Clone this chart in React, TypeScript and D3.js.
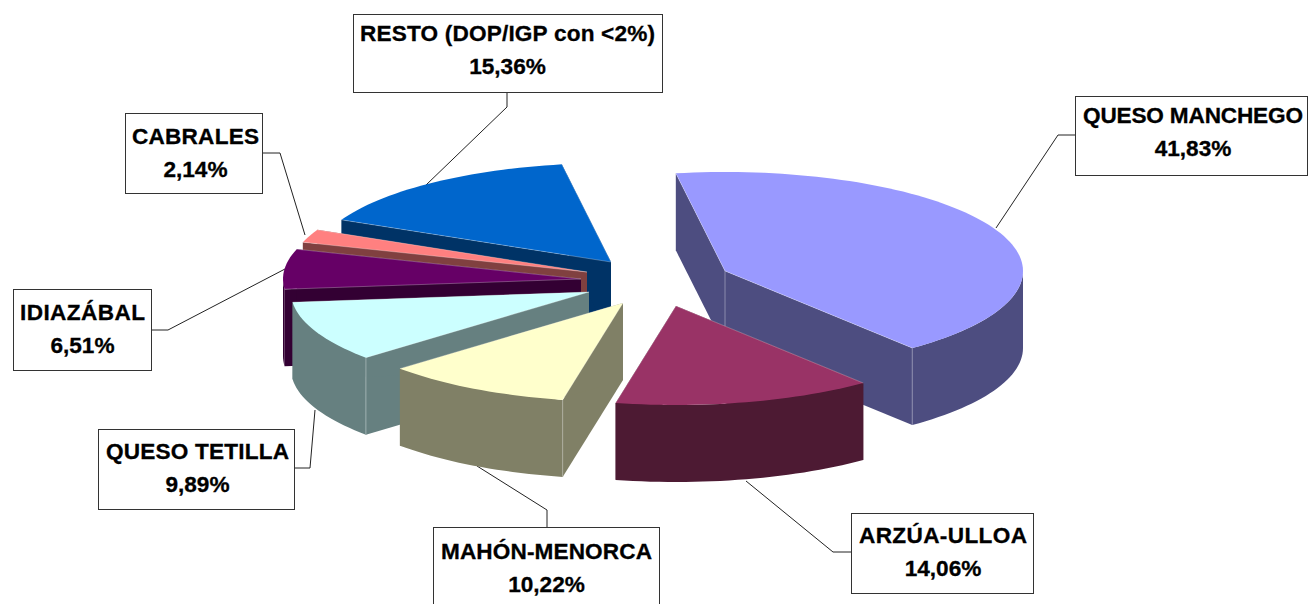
import React from "react";
import * as d3 from "d3";

const categories = ["QUESO MANCHEGO", "ARZÚA-ULLOA", "MAHÓN-MENORCA", "QUESO TETILLA", "IDIAZÁBAL", "CABRALES", "RESTO (DOP/IGP con <2%)"];
const shares = [41.83, 14.06, 10.22, 9.89, 6.51, 2.14, 15.36];
const shareLabels = ["41,83%", "14,06%", "10,22%", "9,89%", "6,51%", "2,14%", "15,36%"];

const topColors = ["#9999FF", "#993366", "#FFFFCC", "#CCFFFF", "#660066", "#FF8080", "#0066CC"];
const wallColors = ["#4D4D80", "#4D1A33", "#808066", "#668080", "#330033", "#804040", "#003366"];

// Exploded apex of each slice on the page
const apexes: [number, number][] = [[725, 271], [676, 306], [623, 303], [589, 292], [581, 279], [587, 272], [611, 262]];
const paintOrder = [6, 5, 4, 3, 2, 0, 1];

// Label boxes: x, y, w, h, and leader polyline
const boxes: [number, number, number, number][] = [
  [1075, 96, 232, 79], [851, 513, 182, 80], [433, 527, 226, 90], [98, 429, 196, 80],
  [13, 289, 138, 81], [125, 113, 137, 80], [353, 14, 309, 78],
];
const leaders: [number, number][][] = [
  [[1075, 135], [1058, 135], [996, 228]],
  [[851, 552], [833, 552], [746, 481]],
  [[547, 527], [547, 510], [477, 466]],
  [[294, 468], [310, 468], [315, 410]],
  [[151, 330], [168, 330], [285, 269]],
  [[262, 153], [280, 153], [305, 235]],
  [[507, 92], [507, 107], [426, 185]],
];
// Label placement: centre x, first baseline, drawn width of the first line
const labelCx = [1193, 943, 546.5, 197.5, 82.5, 195.5, 507.5];
const labelBase = [123, 543, 559, 459, 320, 144, 41];
const labelWidths = [220, 168, 211, 183, 125, 127, 295];
const LINE_GAP = 33;

const RX = 298;
const RY = 99;
const DEPTH = 77;
const START = (-9.5 * Math.PI) / 180;
const TAU = Math.PI * 2;

const arcs = d3.pie<number>().sort(null).startAngle(START).endAngle(START + TAU)(shares);
const line = d3.line<[number, number]>();

function rim(c: [number, number], a0: number, a1: number, dy = 0): [number, number][] {
  const n = Math.max(2, Math.ceil(Math.abs(a1 - a0) / 0.03));
  return d3.range(n + 1).map((i) => {
    const t = a0 + ((a1 - a0) * i) / n;
    return [c[0] + RX * Math.sin(t), c[1] - RY * Math.cos(t) + dy] as [number, number];
  });
}

function Slice({ i }: { i: number }) {
  const a = arcs[i];
  const c = apexes[i];
  const s = a.startAngle;
  const e = a.endAngle;
  const ps = rim(c, s, s)[0];
  const pe = rim(c, e, e)[0];
  const down = (p: [number, number]): [number, number] => [p[0], p[1] + DEPTH];
  const top = line([c, ...rim(c, s, e)])! + "Z";
  const wall1 = line([c, ps, down(ps), down(c)])! + "Z";
  const wall2 = line([c, pe, down(pe), down(c)])! + "Z";
  const f0 = Math.max(s, Math.PI / 2);
  const f1 = Math.min(e, (3 * Math.PI) / 2);
  const outer = f1 > f0 ? line([...rim(c, f0, f1), ...rim(c, f1, f0, DEPTH)])! + "Z" : null;
  const deg = (x: number) => ((x * 180) / Math.PI + 360) % 360;
  const sd = deg(s);
  const ed = deg(e);
  const corners: [number, number][] = [];
  if (sd > 180 && sd < 250) corners.push(ps);
  if (ed > 90 && ed < 180) corners.push(pe);
  if (sd > 270 && ed > 90 && ed < 180) corners.push(c);
  const wall = wallColors[i];
  const edge = d3.interpolateRgb(wall, "#ffffff")(0.35);
  return (
    <g>
      <path d={wall1} fill={wall} />
      <path d={wall2} fill={wall} />
      {outer && <path d={outer} fill={wall} />}
      {corners.map((p, k) => (
        <line key={k} x1={p[0]} y1={p[1]} x2={p[0]} y2={p[1] + DEPTH} stroke={edge} strokeWidth={1} />
      ))}
      <path d={top} fill={topColors[i]} />
      <path d={line([ps, c, pe])!} fill="none" stroke="#ffffff" strokeOpacity={0.35} strokeWidth={0.8} />
    </g>
  );
}

const textProps = {
  textAnchor: "middle" as const,
  fontFamily: "'Liberation Sans', Arial, sans-serif",
  fontWeight: 700,
  fontSize: 22.6,
  fill: "#000",
  stroke: "#000",
  strokeWidth: 0.3,
};

export default function App() {
  return (
    <svg
      width={1308}
      height={604}
      viewBox="0 0 1308 604"
      style={{ position: "absolute", left: 0, top: 0, background: "#fff" }}
    >
      {leaders.map((pts, i) => (
        <path key={i} d={line(pts)!} fill="none" stroke="#222" strokeWidth={1} />
      ))}
      {paintOrder.map((i) => (
        <Slice key={i} i={i} />
      ))}
      {boxes.map((b, i) => (
        <g key={i}>
          <rect x={b[0] + 0.5} y={b[1] + 0.5} width={b[2]} height={b[3]} fill="#fff" stroke="#333" strokeWidth={1} />
          <text {...textProps} x={labelCx[i]} y={labelBase[i]} textLength={labelWidths[i]} lengthAdjust="spacing">
            {categories[i]}
          </text>
          <text {...textProps} x={labelCx[i]} y={labelBase[i] + LINE_GAP}>
            {shareLabels[i]}
          </text>
        </g>
      ))}
    </svg>
  );
}
